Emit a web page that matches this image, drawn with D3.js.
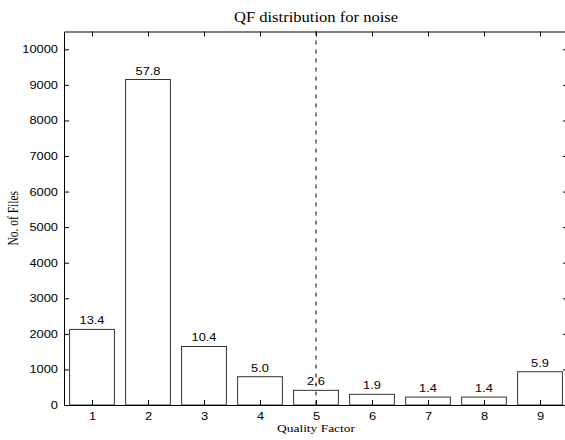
<!DOCTYPE html>
<html>
<head>
<meta charset="utf-8">
<script src="https://cdn.jsdelivr.net/npm/d3@7"></script>
<style>
  html, body { margin: 0; padding: 0; background: #fff; }
  svg { display: block; }
</style>
</head>
<body>
<svg id="chart" width="565" height="440"></svg>
<script>
// ---- data ----
const categories = [1, 2, 3, 4, 5, 6, 7, 8, 9];
const fileCounts = [2125, 9150, 1645, 795, 412, 300, 222, 222, 935];
const percentLabels = ["13.4", "57.8", "10.4", "5.0", "2.6", "1.9", "1.4", "1.4", "5.9"];
const yTickValues = [0, 1000, 2000, 3000, 4000, 5000, 6000, 7000, 8000, 9000, 10000];
const thresholdQF = 5;
const titleText = "QF distribution for noise";
const xLabelText = "Quality Factor";
const yLabelText = "No. of Files";

// ---- layout ----
const W = 565, H = 440;
const m = { left: 64, right: -3, top: 31.5, bottom: 35 };
const plotL = m.left, plotR = W - m.right, plotT = m.top, plotB = H - m.bottom;
const SX = 1.2; // horizontal stretch of glyphs in the reference
const sansFont = "'Liberation Sans', Arial, Helvetica, sans-serif";
const serifFont = "'Liberation Serif', 'Times New Roman', serif";

const svg = d3.select("#chart");

const x = d3.scaleLinear().domain([0.5, 9.5]).range([plotL, plotR]);
const y = d3.scaleLinear().domain([0, 10500]).range([plotB, plotT]);
const barW = x(0.8) - x(0);

// bars
svg.append("g").selectAll("rect")
  .data(categories)
  .join("rect")
  .attr("x", (d) => x(d) - barW / 2)
  .attr("y", (d, i) => y(fileCounts[i]))
  .attr("width", barW)
  .attr("height", (d, i) => y(0) - y(fileCounts[i]))
  .attr("fill", "#fff")
  .attr("stroke", "#333")
  .attr("stroke-width", 1);

// bar percentage labels
svg.append("g").selectAll("text")
  .data(categories)
  .join("text")
  .attr("transform", (d, i) => `translate(${x(d)},${y(fileCounts[i]) - 5}) scale(${SX},1)`)
  .attr("text-anchor", "middle")
  .style("font-family", sansFont)
  .style("font-size", "10.7px")
  .attr("fill", "#000")
  .text((d, i) => percentLabels[i]);

// dashed threshold line
svg.append("line")
  .attr("x1", x(thresholdQF)).attr("x2", x(thresholdQF))
  .attr("y1", plotT).attr("y2", plotB)
  .attr("stroke", "#000")
  .attr("stroke-width", 1)
  .attr("stroke-dasharray", "4,5");

// axes
const tickLen = 5;
const gBottom = svg.append("g").attr("transform", `translate(0,${plotB})`)
  .call(d3.axisBottom(x).tickValues(categories).tickFormat(d3.format("d"))
    .tickSizeInner(-tickLen).tickSizeOuter(0).tickPadding(0));
gBottom.selectAll("text")
  .attr("y", 0).attr("dy", 0)
  .attr("transform", `translate(0,15) scale(${SX},1)`)
  .style("font-family", sansFont).style("font-size", "10.7px").attr("fill", "#000");

const gTop = svg.append("g").attr("transform", `translate(0,${plotT})`)
  .call(d3.axisTop(x).tickValues(categories).tickFormat("")
    .tickSizeInner(-tickLen).tickSizeOuter(0));

const gLeft = svg.append("g").attr("transform", `translate(${plotL},0)`)
  .call(d3.axisLeft(y).tickValues(yTickValues).tickFormat(d3.format("d"))
    .tickSizeInner(-tickLen).tickSizeOuter(0));
gLeft.selectAll("text")
  .attr("x", 0).attr("dy", "0.32em")
  .attr("transform", `translate(-6,0) scale(${SX},1)`)
  .style("font-family", sansFont).style("font-size", "10.7px").attr("fill", "#000");

const gRight = svg.append("g").attr("transform", `translate(${plotR},0)`)
  .call(d3.axisRight(y).tickValues(yTickValues).tickFormat("")
    .tickSizeInner(-tickLen).tickSizeOuter(0));

[gBottom, gTop, gLeft, gRight].forEach((g) => {
  g.select(".domain").attr("stroke", "#000").attr("stroke-width", 1);
  g.selectAll(".tick line").attr("stroke", "#000").attr("stroke-width", 1);
});

// title
svg.append("text")
  .attr("transform", `translate(${(plotL + plotR) / 2},22) scale(${SX},1)`)
  .attr("text-anchor", "middle")
  .style("font-family", serifFont)
  .style("font-size", "13.8px")
  .attr("fill", "#000")
  .text(titleText);

// x label
svg.append("text")
  .attr("transform", `translate(${(plotL + plotR) / 2},431.5) scale(${SX},1)`)
  .attr("text-anchor", "middle")
  .style("font-family", serifFont)
  .style("font-size", "11.2px")
  .attr("fill", "#000")
  .text(xLabelText);

// y label
svg.append("text")
  .attr("transform", `translate(17.5,${(plotT + plotB) / 2}) scale(${SX},1) rotate(-90)`)
  .attr("text-anchor", "middle")
  .style("font-family", serifFont)
  .style("font-size", "11.5px")
  .attr("fill", "#000")
  .text(yLabelText);
</script>
</body>
</html>
